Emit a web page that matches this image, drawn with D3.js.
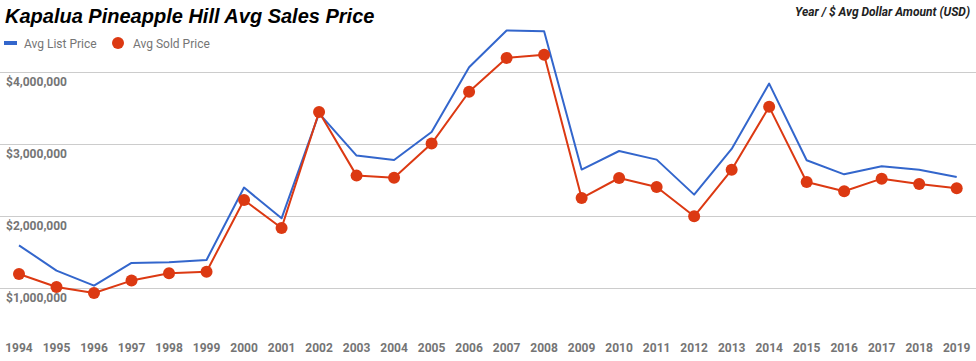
<!DOCTYPE html>
<html>
<head>
<meta charset="utf-8">
<script src="https://cdn.jsdelivr.net/npm/d3@7"></script>
<style>
  html, body { margin: 0; padding: 0; background: #fff; }
  svg { display: block; }
</style>
</head>
<body>
<div id="chart"></div>
<script>
const years = [1994,1995,1996,1997,1998,1999,2000,2001,2002,2003,2004,2005,2006,2007,2008,2009,2010,2011,2012,2013,2014,2015,2016,2017,2018,2019];
const avgListPrice = [1597000,1246000,1037000,1352000,1361000,1394000,2399000,1972000,3430000,2843000,2782000,3170000,4070000,4580000,4570000,2649000,2907000,2787000,2301000,2935000,3843000,2778000,2583000,2694000,2648000,2546000];
const avgSoldPrice = [1199000,1018000,935000,1107000,1208000,1231000,2226000,1838000,3449000,2565000,2537000,3010000,3730000,4200000,4245000,2254000,2532000,2407000,2000000,2645000,3520000,2476000,2347000,2523000,2449000,2389000];
const yTicks = [1000000,2000000,3000000,4000000];
const seriesNames = ["Avg List Price","Avg Sold Price"];
const titleText = "Kapalua Pineapple Hill Avg Sales Price";
const axisTitleText = "Year / $ Avg Dollar Amount (USD)";

const W = 976, H = 361;
const blue = "#3366cc", red = "#dc3912", grey = "#757575";

const svg = d3.select("#chart").append("svg").attr("width", W).attr("height", H);

const x = d3.scalePoint().domain(years).range([19, 956.7]);
const y = d3.scaleLinear().domain([0, 5000000]).range([360.3, 0.3]);

// gridlines
svg.append("g").selectAll("line").data(yTicks).join("line")
  .attr("x1", 0).attr("x2", W)
  .attr("y1", d => Math.round(y(d)) + 0.5).attr("y2", d => Math.round(y(d)) + 0.5)
  .attr("stroke", "#cccccc").attr("stroke-width", 1);

// y labels (inside, below gridline)
const fmt = d3.format("$,.0f");
svg.append("g").selectAll("text").data(yTicks).join("text")
  .attr("x", 6).attr("y", d => y(d) + 14)
  .attr("font-family", "Roboto, sans-serif").attr("font-size", 12).attr("font-weight", "bold")
  .attr("fill", grey).text(d => fmt(d));

// x labels
svg.append("g").selectAll("text").data(years).join("text")
  .attr("x", d => x(d)).attr("y", 352)
  .attr("text-anchor", "middle")
  .attr("font-family", "Roboto, sans-serif").attr("font-size", 12).attr("font-weight", "bold")
  .attr("fill", grey).text(d => d);

// lines
const line = d3.line().x((d, i) => x(years[i])).y(d => y(d));
svg.append("path").datum(avgListPrice).attr("d", line)
  .attr("fill", "none").attr("stroke", blue).attr("stroke-width", 2).attr("stroke-linejoin", "round");
svg.append("path").datum(avgSoldPrice).attr("d", line)
  .attr("fill", "none").attr("stroke", red).attr("stroke-width", 2).attr("stroke-linejoin", "round");
svg.append("g").selectAll("circle").data(avgSoldPrice).join("circle")
  .attr("cx", (d, i) => x(years[i])).attr("cy", d => y(d)).attr("r", 6)
  .attr("fill", red);

// title
svg.append("text").attr("x", 5).attr("y", 23)
  .attr("font-family", "'Liberation Sans', Arial, sans-serif").attr("font-size", 20)
  .attr("font-weight", "bold").attr("font-style", "italic").attr("fill", "#000")
  .text(titleText);

svg.append("text").attr("x", 970).attr("y", 16).attr("text-anchor", "end")
  .attr("font-family", "Roboto, sans-serif").attr("font-size", 12)
  .attr("font-weight", "bold").attr("font-style", "italic").attr("fill", "#222")
  .text(axisTitleText);

// legend
const lg = svg.append("g");
lg.append("rect").attr("x", 4).attr("y", 41).attr("width", 13).attr("height", 4).attr("fill", blue);
lg.append("text").attr("x", 24).attr("y", 47.5)
  .attr("font-family", "Roboto, sans-serif").attr("font-size", 12).attr("fill", grey)
  .text(seriesNames[0]);
lg.append("circle").attr("cx", 118).attr("cy", 43).attr("r", 6).attr("fill", red);
lg.append("text").attr("x", 133).attr("y", 47.5)
  .attr("font-family", "Roboto, sans-serif").attr("font-size", 12).attr("fill", grey)
  .text(seriesNames[1]);
</script>
</body>
</html>
